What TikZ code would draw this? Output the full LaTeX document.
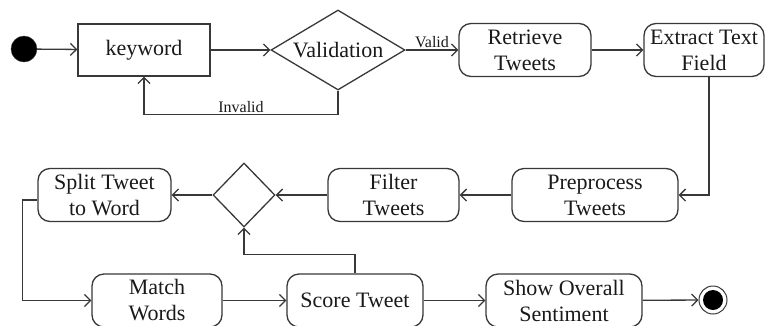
\documentclass[tikz,border=0pt]{standalone}
\usepackage{fontspec}
\setmainfont{Liberation Serif}
\usetikzlibrary{shapes.geometric,arrows.meta}
\definecolor{ink}{HTML}{383838}
\tikzset{
  x=1pt, y=-1pt,
  every node/.style={text=black!90},
  flow/.style={draw=ink, line width=1.3pt, -{Straight Barb[length=6pt,width=12pt,line width=1.3pt]}},
  plain/.style={draw=ink, line width=1.3pt},
  activity/.style={draw=ink, line width=1.3pt, rounded corners=12pt, inner sep=0pt,
    align=center, font=\fontsize{22}{26}\selectfont},
  decision/.style={draw=ink, line width=1.3pt, shape=diamond, inner sep=0pt,
    font=\fontsize{22}{26}\selectfont},
  lbl/.style={font=\fontsize{16}{18}\selectfont, inner sep=1.5pt}
}
\begin{document}
\begin{tikzpicture}
\useasboundingbox (0,0) rectangle (765,325);

% initial and final states
\node[circle, fill=black, draw=ink, minimum size=26pt, inner sep=0pt] (start) at (24,49) {};
\node[circle, draw=ink, line width=1pt, fill=white, minimum size=28pt, inner sep=0pt] (end) at (713,300) {};
\node[circle, fill=black, minimum size=20pt, inner sep=0pt] (endcore) at (end.center) {};

% top row
\node[activity, rounded corners=0pt, minimum width=132pt, minimum height=52pt] (keyword) at (144,50) {keyword};
\node[decision, aspect=1.675, minimum width=134pt, minimum height=80pt] (val) at (338,50) {Validation};
\node[activity, minimum width=132pt, minimum height=53pt] (retrieve) at (525,50) {Retrieve\\Tweets};
\node[activity, minimum width=120pt, minimum height=53pt] (extract) at (704,50) {Extract Text\\Field};

% middle row
\node[activity, minimum width=166pt, minimum height=53pt] (pre) at (595,195) {Preprocess\\Tweets};
\node[activity, minimum width=131pt, minimum height=53pt] (filter) at (393.5,195) {Filter\\Tweets};
\node[decision, minimum width=62pt, minimum height=64pt] (merge) at (244,195) {};
\node[activity, minimum width=133pt, minimum height=53pt] (split) at (104.5,195) {Split Tweet\\to Word};

% bottom row
\node[activity, minimum width=130pt, minimum height=53pt] (match) at (157,300.5) {Match\\Words};
\node[activity, minimum width=136pt, minimum height=53pt] (score) at (355,300.5) {Score Tweet};
\node[activity, minimum width=156pt, minimum height=53pt] (show) at (564,300.5) {Show Overall\\Sentiment};

% control flow
\draw[flow] (start) -- (keyword);
\draw[flow] (keyword) -- (val);
\draw[flow] (val) -- node[lbl, above] {Valid} (retrieve);
\draw[flow] (val.south) -- ++(0,24) -| node[lbl, pos=0.25, above] {Invalid} (keyword.south);
\draw[flow] (retrieve) -- (extract);
\draw[flow] ([xshift=5pt]extract.south) |- (pre.east);
\draw[flow] (pre) -- (filter);
\draw[flow] (filter) -- (merge);
\draw[flow] (merge) -- (split);
\draw[flow] ([yshift=-5pt]split.west) -- ++(-15,0) |- (match.west);
\draw[flow] (match) -- (score);
\draw[flow] (score.north) -- ++(0,-19) -| (merge.south);
\draw[flow] (score) -- (show);
\draw[flow] (show) -- (end);
\end{tikzpicture}
\end{document}
